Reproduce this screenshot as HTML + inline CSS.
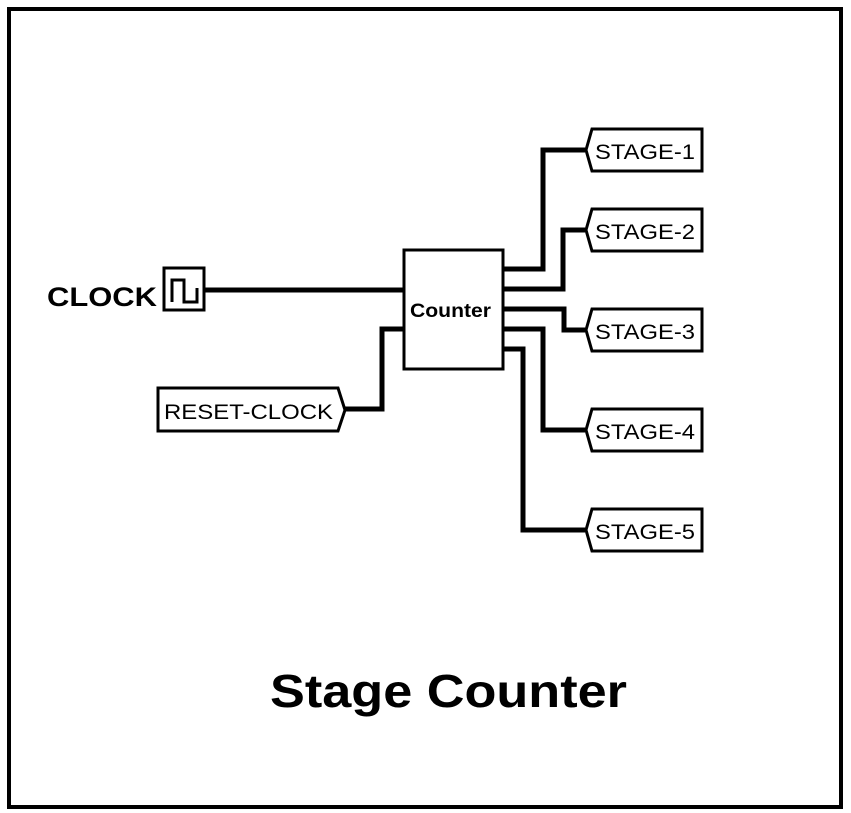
<!DOCTYPE html>
<html><head><style>body{margin:0;background:#fff}svg{display:block}</style></head><body>
<svg width="851" height="813" viewBox="0 0 851 813" xmlns="http://www.w3.org/2000/svg" font-family="Liberation Sans, sans-serif">
<rect x="9" y="9" width="832" height="798" fill="none" stroke="#000" stroke-width="4"/>
<g fill="none" stroke="#000" stroke-width="5" stroke-linejoin="miter">
<rect x="164" y="268" width="40" height="42" stroke-width="3"/>
<polyline points="172,302 172,280 184,280 184,302 197,302 197,288" stroke-width="3"/>
<line x1="204" y1="290" x2="403" y2="290"/>
<polyline points="345,409 382,409 382,329 403,329"/>
<rect x="404" y="250" width="99" height="119" stroke-width="3"/>
<polyline points="504,269 543,269 543,150 585,150"/>
<polyline points="504,289 563,289 563,230 585,230"/>
<polyline points="504,309 564,309 564,330 585,330"/>
<polyline points="504,329 543,329 543,430 585,430"/>
<polyline points="504,349 523,349 523,530 585,530"/>
<g stroke-width="3">
<polygon points="158,388 338,388 345,410 338,431 158,431"/>
<polygon points="592,129 702,129 702,171 592,171 586,150"/>
<polygon points="592,209 702,209 702,251 592,251 586,230"/>
<polygon points="592,309 702,309 702,351 592,351 586,330"/>
<polygon points="592,409 702,409 702,451 592,451 586,430"/>
<polygon points="592,509 702,509 702,551 592,551 586,530"/>
</g>
</g>
<text x="47" y="306" font-size="27" font-weight="bold" textLength="110" lengthAdjust="spacingAndGlyphs">CLOCK</text>
<text x="410" y="317" font-size="19" font-weight="bold" textLength="81" lengthAdjust="spacingAndGlyphs">Counter</text>
<text x="164" y="419" font-size="21" textLength="169" lengthAdjust="spacingAndGlyphs">RESET-CLOCK</text>
<text x="595" y="159" font-size="21" textLength="100" lengthAdjust="spacingAndGlyphs">STAGE-1</text>
<text x="595" y="239" font-size="21" textLength="100" lengthAdjust="spacingAndGlyphs">STAGE-2</text>
<text x="595" y="339" font-size="21" textLength="100" lengthAdjust="spacingAndGlyphs">STAGE-3</text>
<text x="595" y="439" font-size="21" textLength="100" lengthAdjust="spacingAndGlyphs">STAGE-4</text>
<text x="595" y="539" font-size="21" textLength="100" lengthAdjust="spacingAndGlyphs">STAGE-5</text>
<text x="270" y="707" font-size="46" font-weight="bold" textLength="357" lengthAdjust="spacingAndGlyphs">Stage Counter</text>
</svg>
</body></html>
